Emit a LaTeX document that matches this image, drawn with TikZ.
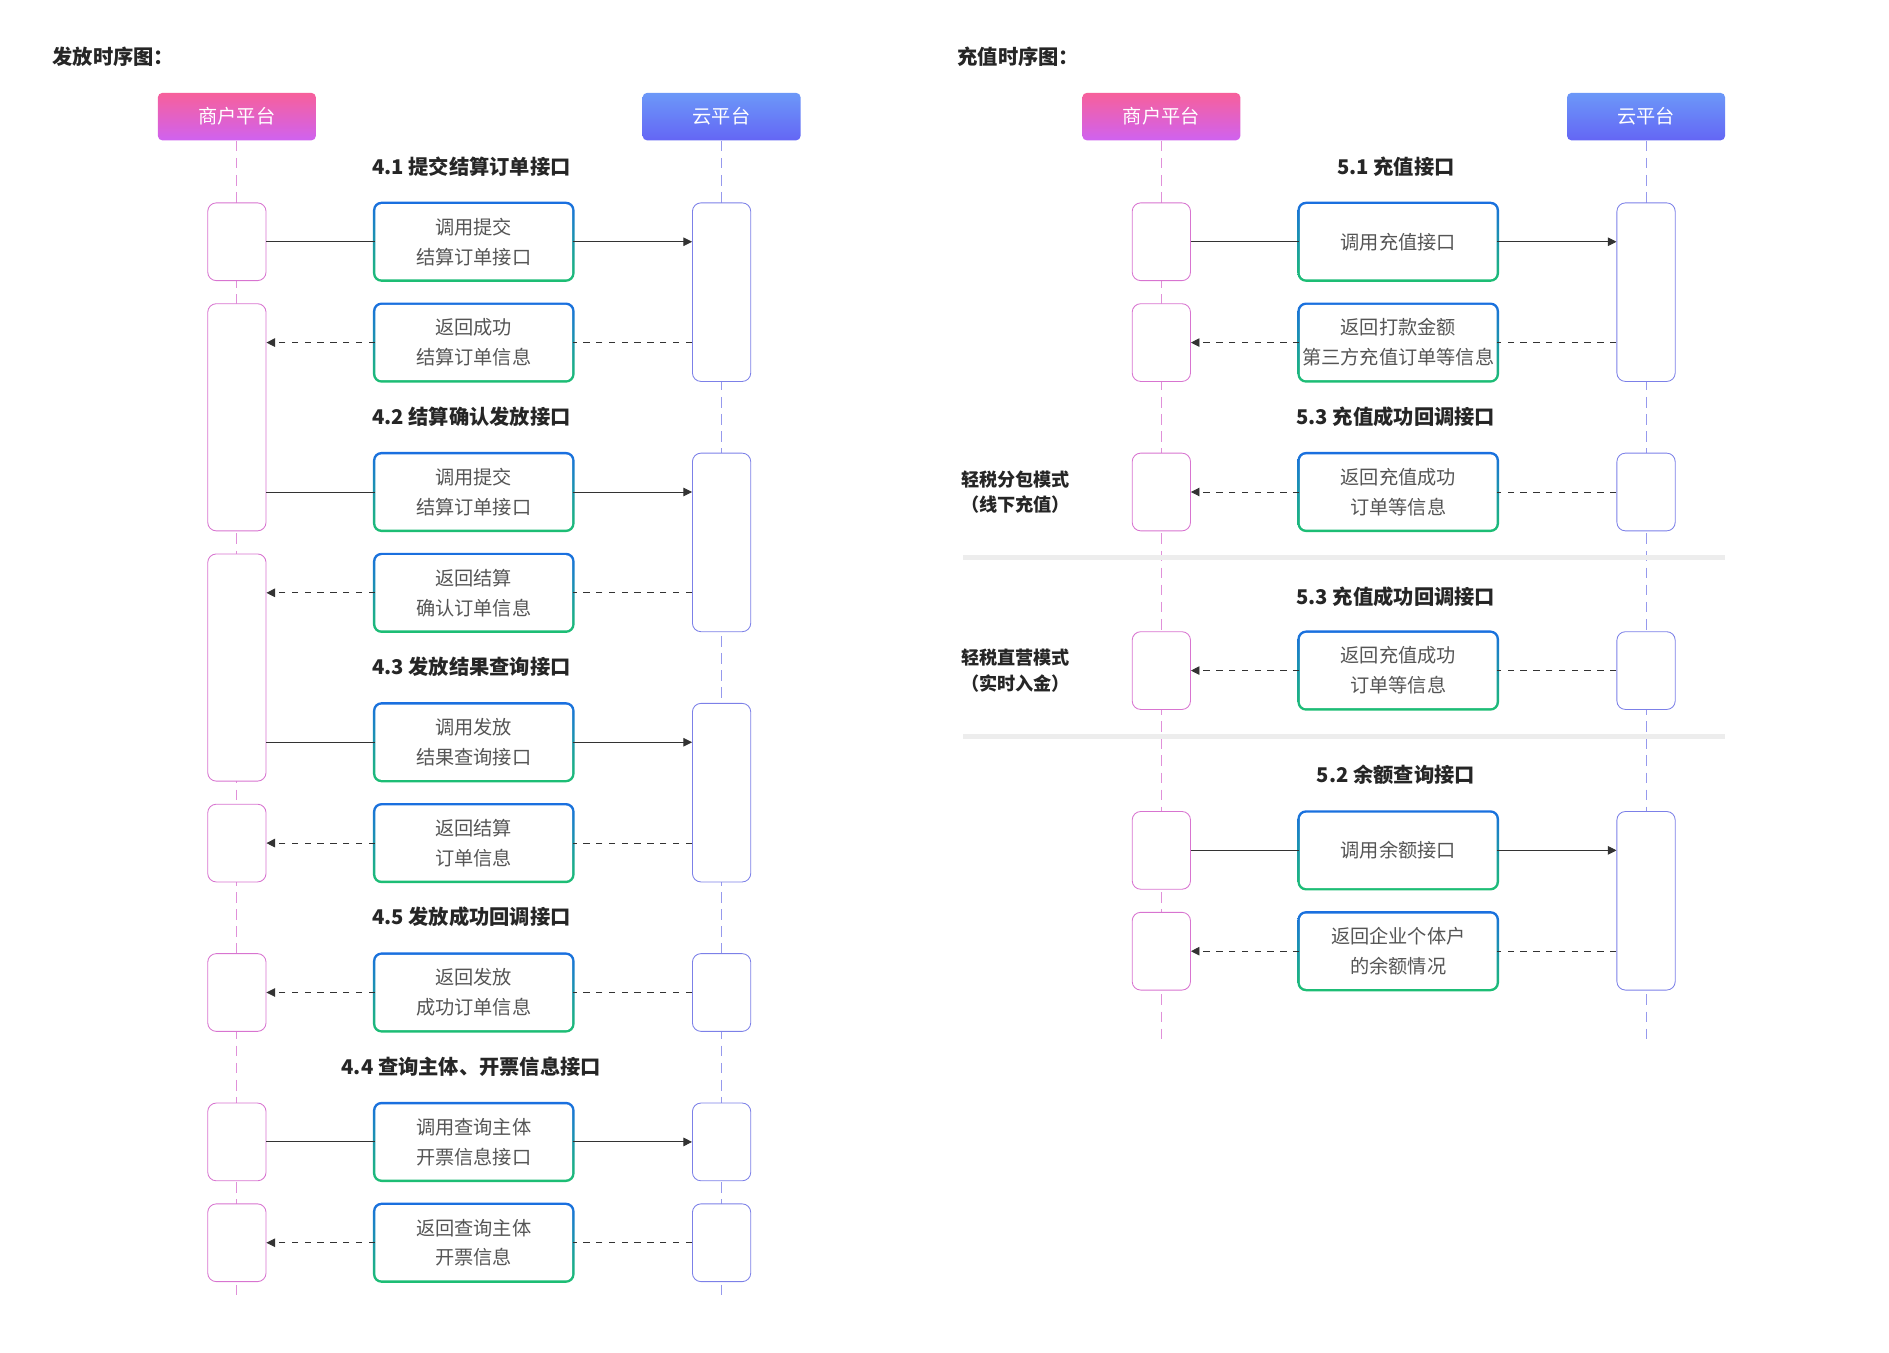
\documentclass[tikz,border=0pt]{standalone}
\usepackage{fontspec}
\newfontfamily\cjk{Noto Sans CJK SC}
\usetikzlibrary{arrows.meta}
\definecolor{mblue}{HTML}{1A6FE0}
\definecolor{mgreen}{HTML}{1DBF73}
\definecolor{txt}{HTML}{555555}
\definecolor{pinkA}{HTML}{F7609B}
\definecolor{pinkB}{HTML}{CF62F0}
\definecolor{bluA}{HTML}{6C98F8}
\definecolor{bluB}{HTML}{6466F5}
\definecolor{actL}{HTML}{D874D0}
\definecolor{actR}{HTML}{7C80E8}

\tikzset{
  msgo/.style={rounded corners=4pt, minimum width=3.32cm, minimum height=1.32cm, top color=mblue, bottom color=mgreen, draw=none, inner sep=0pt},
  msg/.style={fill=white, rounded corners=3pt, minimum width=3.24cm, minimum height=1.24cm, align=center, text=txt, inner sep=0pt, font=\cjk\fontsize{9}{14}\selectfont},
  small/.style={font=\cjk\fontsize{8}{12}\selectfont},
  hd/.style={rounded corners=2pt, minimum width=2.6cm, minimum height=0.78cm, text=white, font=\cjk\fontsize{9}{11}\selectfont},
  hdm/.style={hd, top color=pinkA, bottom color=pinkB},
  hdc/.style={hd, top color=bluA, bottom color=bluB},
  actl/.style={draw=actL, fill=white, rounded corners=4pt, minimum width=0.96cm, inner sep=0pt},
  actr/.style={draw=actR, fill=white, rounded corners=4pt, minimum width=0.96cm, inner sep=0pt},
  lifel/.style={dashed, draw=actL!80, dash pattern=on 5pt off 3pt},
  lifer/.style={dashed, draw=actR!80, dash pattern=on 5pt off 3pt},
  ttl/.style={font=\cjk\bfseries\fontsize{9.5}{11}\selectfont, text=black!85},
  side/.style={font=\cjk\bfseries\fontsize{8.5}{12}\selectfont, align=center, text=black!85},
  line/.style={draw=black!80, thin, -{Triangle[length=4pt,width=4pt]}},
  sep/.style={draw=black!7, line width=0.08cm},
}
\newcommand\msg[4]{\node[msgo] at (#2,#3) {}; \node[msg] (#1) at (#2,#3) {#4};}
\newcommand\act[5]{\node[#1, minimum height={(#5-#4)*0.02cm}] (#2) at (#3,{(#4+#5)/2}) {};}
\newcommand\callmsg[3]{\draw[line,-] (#1.east |- #2.west) -- (#2.west); \draw[line] (#2.east) -- (#3.west |- #2.east);}
\newcommand\retmsg[3]{\draw[line,-,dashed] (#3.west |- #2.east) -- (#2.east); \draw[line,dashed] (#2.west) -- (#1.east |- #2.west);}

\begin{document}
\begin{tikzpicture}[x=0.02cm, y=-0.02cm]
  \useasboundingbox (0,0) rectangle (1555,1113);

  % 发放时序图
  \node[ttl, anchor=west] (t1) at (37,47) {发放时序图：};
  \node[hdm] (hL) at (195,96) {商户平台};
  \node[hdc] (hR) at (594,96) {云平台};
  \coordinate (eL) at (195,1068);
  \coordinate (eR) at (594,1068);
  \draw[lifel] (hL.south) -- (eL);
  \draw[lifer] (hR.south) -- (eR);

  \act{actl}{la1}{195}{167}{231}
  \act{actl}{la2}{195}{250}{437}
  \act{actl}{la3}{195}{456}{643}
  \act{actl}{la4}{195}{662}{726}
  \act{actl}{la5}{195}{785}{849}
  \act{actl}{la6}{195}{908}{972}
  \act{actl}{la7}{195}{991}{1055}
  \act{actr}{ra1}{594}{167}{314}
  \act{actr}{ra2}{594}{373}{520}
  \act{actr}{ra3}{594}{579}{726}
  \act{actr}{ra4}{594}{785}{849}
  \act{actr}{ra5}{594}{908}{972}
  \act{actr}{ra6}{594}{991}{1055}

  \node[ttl] (s41) at (388,137) {4.1 提交结算订单接口};
  \msg{m1}{390}{199}{调用提交\\结算订单接口}
  \msg{m2}{390}{282}{返回成功\\结算订单信息}
  \node[ttl] (s42) at (388,343) {4.2 结算确认发放接口};
  \msg{m3}{390}{405}{调用提交\\结算订单接口}
  \msg{m4}{390}{488}{返回结算\\确认订单信息}
  \node[ttl] (s43) at (388,549) {4.3 发放结果查询接口};
  \msg{m5}{390}{611}{调用发放\\结果查询接口}
  \msg{m6}{390}{694}{返回结算\\订单信息}
  \node[ttl] (s45) at (388,755) {4.5 发放成功回调接口};
  \msg{m7}{390}{817}{返回发放\\成功订单信息}
  \node[ttl] (s44) at (388,878) {4.4 查询主体、开票信息接口};
  \msg{m8}{390}{940}{调用查询主体\\开票信息接口}
  \msg{m9}{390}{1023}{返回查询主体\\开票信息}

  \callmsg{la1}{m1}{ra1}
  \retmsg{la2}{m2}{ra1}
  \callmsg{la2}{m3}{ra2}
  \retmsg{la3}{m4}{ra2}
  \callmsg{la3}{m5}{ra3}
  \retmsg{la4}{m6}{ra3}
  \retmsg{la5}{m7}{ra4}
  \callmsg{la6}{m8}{ra5}
  \retmsg{la7}{m9}{ra6}

  % 充值时序图
  \node[ttl, anchor=west] (t2) at (782,47) {充值时序图：};
  \node[hdm] (hL2) at (956,96) {商户平台};
  \node[hdc] (hR2) at (1355,96) {云平台};
  \coordinate (eL2) at (956,857);
  \coordinate (eR2) at (1355,857);
  \draw[lifel] (hL2.south) -- (eL2);
  \draw[lifer] (hR2.south) -- (eR2);
  \draw[sep] (793,459) -- (1420,459);
  \draw[sep] (793,606) -- (1420,606);

  \act{actl}{lb1}{956}{167}{231}
  \act{actl}{lb2}{956}{250}{314}
  \act{actl}{lb3}{956}{373}{437}
  \act{actl}{lb4}{956}{520}{584}
  \act{actl}{lb5}{956}{668}{732}
  \act{actl}{lb6}{956}{751}{815}
  \act{actr}{rb1}{1355}{167}{314}
  \act{actr}{rb2}{1355}{373}{437}
  \act{actr}{rb3}{1355}{520}{584}
  \act{actr}{rb4}{1355}{668}{815}

  \node[ttl] (s51) at (1149,137) {5.1 充值接口};
  \msg{n1}{1151}{199}{调用充值接口}
  \msg{n2}{1151}{282}{\small 返回打款金额\\第三方充值订单等信息}
  \node[ttl] (s53a) at (1149,343) {5.3 充值成功回调接口};
  \msg{n3}{1151}{405}{返回充值成功\\订单等信息}
  \node[side] (md1) at (836,405) {轻税分包模式\\（线下充值）};
  \node[ttl] (s53b) at (1149,491) {5.3 充值成功回调接口};
  \msg{n4}{1151}{552}{返回充值成功\\订单等信息}
  \node[side] (md2) at (836,552) {轻税直营模式\\（实时入金）};
  \node[ttl] (s52) at (1149,638) {5.2 余额查询接口};
  \msg{n5}{1151}{700}{调用余额接口}
  \msg{n6}{1151}{783}{\small 返回企业个体户\\的余额情况}

  \callmsg{lb1}{n1}{rb1}
  \retmsg{lb2}{n2}{rb1}
  \retmsg{lb3}{n3}{rb2}
  \retmsg{lb4}{n4}{rb3}
  \callmsg{lb5}{n5}{rb4}
  \retmsg{lb6}{n6}{rb4}
\end{tikzpicture}
\end{document}
